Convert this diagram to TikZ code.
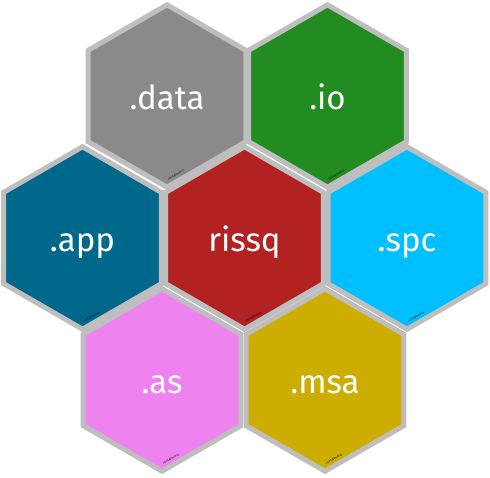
\documentclass[tikz,border=0pt]{standalone}
\usepackage{fontspec}
\setmainfont{Fira Sans}
\definecolor{hexborder}{HTML}{BEBEBE}
\definecolor{cdata}{HTML}{8B8989}
\definecolor{cio}{HTML}{228B22}
\definecolor{capp}{HTML}{00688B}
\definecolor{crissq}{HTML}{B22222}
\definecolor{cspc}{HTML}{00BFFF}
\definecolor{cas}{HTML}{EE82EE}
\definecolor{cmsa}{HTML}{CDAD00}
\tikzset{
  hexlabel/.style={text=white,font=\fontsize{33}{33}\selectfont,anchor=base,inner sep=0pt},
  urllabel/.style={text=black,font=\fontsize{2.8}{3}\selectfont,rotate=30,inner sep=0pt},
  hexcell/.style={draw=hexborder,line width=5pt,line join=miter},
}
\begin{document}
\begin{tikzpicture}[x=1pt,y=-1pt]
\useasboundingbox (0,0) rectangle (490,477);
\fill[white] (0,0) rectangle (490,477);
\foreach \cx/\cy/\col/\nm in {167/96/cdata/data,327.5/96/cio/io,82.5/238/capp/app,244.5/238/crissq/rissq,407/238/cspc/spc,162/380/cas/as,325/380/cmsa/msa}{
  \begin{scope}[shift={(\cx,\cy)}]
  \fill[hexcell,fill=\col]
    (-90:91.2) -- (-150:91.2) -- (150:91.2) -- (90:91.2) -- (30:91.2) -- (-30:91.2) -- cycle;
  \node[urllabel] (url\nm) at (9,79) {rissq.github.io};
  \end{scope}
}
\node[hexlabel] (ndata) at (167,109) {.data};
\node[hexlabel] (nio) at (327.5,109) {.io};
\node[hexlabel] (napp) at (82.5,251) {.app};
\node[hexlabel] (nrissq) at (244.5,251) {rissq};
\node[hexlabel] (nspc) at (407,251) {.spc};
\node[hexlabel] (nas) at (162,393) {.as};
\node[hexlabel] (nmsa) at (325,393) {.msa};
\end{tikzpicture}
\end{document}
